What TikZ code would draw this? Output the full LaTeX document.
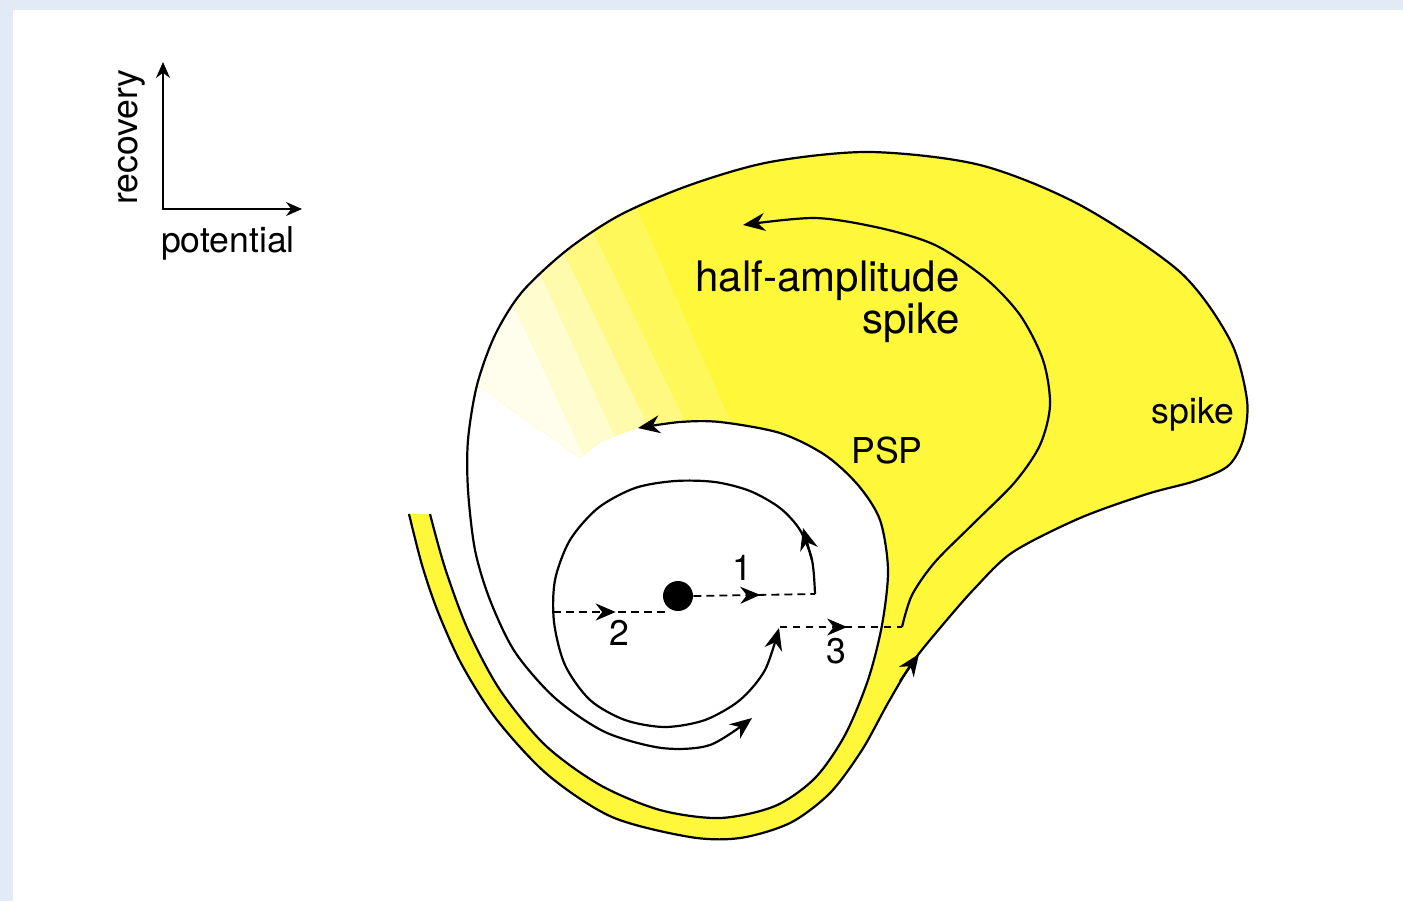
\documentclass[tikz,border=0pt]{standalone}
\usepackage{fontspec}
\setmainfont{TeX Gyre Heros}
\usetikzlibrary{arrows.meta,decorations.markings}
\definecolor{bgblue}{RGB}{226,234,245}
\definecolor{ylw}{RGB}{255,247,58}
\definecolor{fadeA}{RGB}{255,248,90}
\definecolor{fadeB}{RGB}{255,249,130}
\definecolor{fadeC}{RGB}{255,251,172}
\definecolor{fadeD}{RGB}{255,252,208}
\definecolor{fadeE}{RGB}{255,254,236}
\begin{document}
\begin{tikzpicture}[x=0.5pt,y=-0.5pt,
  curve/.style={line width=1.1pt, black},
  arrowend/.style={-{Stealth[length=11pt,width=9pt]}},
  axisline/.style={line width=0.8pt, black, {Stealth[length=8pt,width=7pt]}-{Stealth[length=8pt,width=7pt]}},
  dashline/.style={line width=0.9pt, dash pattern=on 4pt off 2.5pt},
  thindash/.style={line width=0.6pt, dash pattern=on 3.5pt off 3pt},
  midarrow/.style={postaction={decorate}, decoration={markings, mark=at position #1 with {\arrow{Stealth[length=10pt,width=8.5pt]}}}},
  lab/.style={font=\fontsize{17.8}{20}\selectfont, inner sep=0pt},
  biglab/.style={font=\fontsize{21}{24}\selectfont, inner sep=0pt},
  dotnode/.style={circle, fill=black, inner sep=0pt, minimum size=15pt}]
\useasboundingbox (0,0) rectangle (1403,901);
\fill[bgblue] (0,0) rectangle (1403,901);
\fill[white] (13,10) rectangle (1403,901);

% yellow region with fading wedge
\begin{scope}
\clip plot[smooth] coordinates {(409,514) (422,565) (438,612) (462,665) (497,720) (548,775) (612,817) (690,837) (740,838) (790,823) (830,793) (862,750) (888,703) (912,663) (940,628) (975,588) (1013,552) (1080,518) (1147,494) (1195,481) (1228,466) (1243,440) (1247,400) (1230,340) (1180,272) (1080,205) (980,165) (870,152) (770,162) (690,185) (620,215) (567,250) (522,292) (495,335) (477,385)}
  -- (580,458)
  -- plot[smooth] coordinates {(600,442) (638,428) (680,422) (720,422) (780,433) (825,455) (858,485) (880,520) (888,570) (882,625) (868,680) (845,735) (815,778) (775,806) (720,818) (660,810) (600,785) (545,745) (500,690) (468,630) (445,568) (430,514)}
  -- cycle;
\fill[ylw] (380,100) rectangle (1300,900);
\fill[fadeA] (597,117) -- (745,455) -- (700,452) -- (554,151) -- cycle;
\fill[fadeB] (554,151) -- (700,452) -- (665,460) -- (527,178) -- cycle;
\fill[fadeC] (527,178) -- (665,460) -- (630,470) -- (508,203) -- cycle;
\fill[fadeD] (508,203) -- (630,470) -- (592,474) -- (484,241) -- cycle;
\fill[fadeE] (484,241) -- (592,474) -- (470,480) -- (380,241) -- cycle;
\end{scope}

% spike trajectory
\draw[curve, arrowend] plot[smooth] coordinates {(409,514) (422,565) (438,612) (462,665) (497,720) (548,775) (612,817) (690,837) (740,838) (790,823) (830,793) (862,750) (888,703) (912,663) (940,628) (975,588) (1013,552) (1080,518) (1147,494) (1195,481) (1228,466) (1243,440) (1247,400) (1230,340) (1180,272) (1080,205) (980,165) (870,152) (770,162) (690,185) (620,215) (567,250) (522,292) (495,335) (477,385) (468,440) (468,490) (475,550) (490,600) (515,652) (555,698) (605,732) (662,748) (710,745) (752,718)};
\draw[curve, arrowend] (900,681) -- (919,654);

% PSP trajectory
\draw[curve, arrowend] plot[smooth] coordinates {(430,514) (445,568) (468,630) (500,690) (545,745) (600,785) (660,810) (720,818) (775,806) (815,778) (845,735) (868,680) (882,625) (888,570) (880,520) (858,485) (825,455) (780,433) (720,422) (680,422) (638,428)};

% half-amplitude trajectory
\draw[curve, arrowend] plot[smooth] coordinates {(902,627) (912,595) (935,562) (975,522) (1015,482) (1040,445) (1050,405) (1043,360) (1020,315) (985,278) (935,245) (880,228) (815,218) (743,225)};

% rest point and small orbit
\node[dotnode] (rest) at (678,596) {};
\coordinate (c1) at (815,594);
\coordinate (c2s) at (553,612);
\coordinate (c2e) at (667,612);
\coordinate (c3s) at (780,627);
\coordinate (c3e) at (902,627);

\draw[curve, arrowend] plot[smooth] coordinates {(815,594) (812,560) (800,530) (780,508) (750,491) (715,482) (675,481) (635,488) (598,508) (570,540) (555,580) (554,622) (565,665) (590,700) (625,720) (665,727) (705,720) (740,700) (765,670) (779,628)};
\draw[curve, arrowend] (812,560) -- (803,528);

\draw[dashline, midarrow=0.55] (rest.east) -- (c1);
\draw[dashline, midarrow=0.55] (c2s) -- (c2e);
\draw[thindash, midarrow=0.55] (c3s) -- (c3e);

\node[lab, anchor=base] (n1) at (742,580) {1};
\node[lab, anchor=base] (n2) at (619,645) {2};
\node[lab, anchor=base] (n3) at (836,663) {3};

% labels
\node[biglab, anchor=base east] (ha1) at (960,291) {half-amplitude};
\node[biglab, anchor=base east] (ha2) at (960,333) {spike};
\node[lab, anchor=base] (spk) at (1193,423) {spike};
\node[lab, anchor=base] (psp) at (887,463) {PSP};

% axes
\coordinate (O) at (163,209);
\coordinate (Ytop) at (163,62);
\coordinate (Xend) at (302,209);
\draw[axisline] (Ytop) -- (O) -- (Xend);
\node[lab, rotate=90, anchor=base] (rec) at (137,137) {recovery};
\node[lab, anchor=base] (pot) at (228,252) {potential};
\end{tikzpicture}
\end{document}
